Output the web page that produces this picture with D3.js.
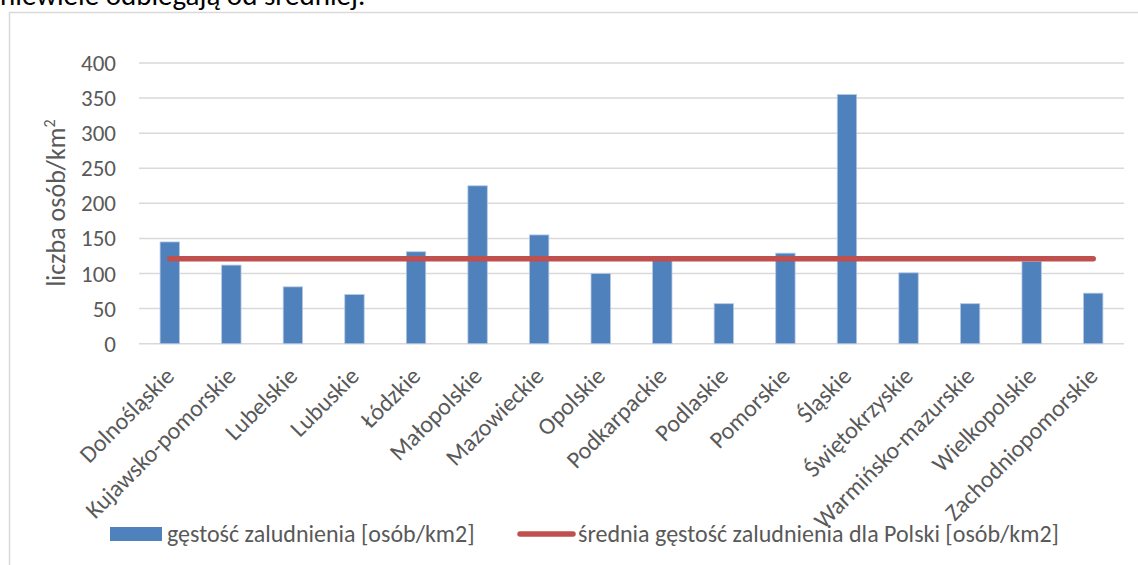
<!DOCTYPE html>
<html>
<head>
<meta charset="utf-8">
<script src="https://cdn.jsdelivr.net/npm/d3@7"></script>
<style>
  body { margin: 0; background: #fff; }
  svg { display: block; font-family: Carlito, Lato, "Noto Sans", sans-serif; }
</style>
</head>
<body>
<svg id="chart" width="1138" height="565"></svg>
<script>
// dane: gęstość zaludnienia wg województw
const wojewodztwa = ["Dolnośląskie", "Kujawsko-pomorskie", "Lubelskie", "Lubuskie", "Łódzkie",
  "Małopolskie", "Mazowieckie", "Opolskie", "Podkarpackie", "Podlaskie", "Pomorskie", "Śląskie",
  "Świętokrzyskie", "Warmińsko-mazurskie", "Wielkopolskie", "Zachodniopomorskie"];
const gestosc = [145, 112, 81, 70, 131, 225, 155, 100, 119, 57, 129, 355, 101, 57, 117, 72];
const sredniaPolska = 121;
const yTicks = [0, 50, 100, 150, 200, 250, 300, 350, 400];

const svg = d3.select("#chart");

// tekst nad wykresem (ucięty u góry)
svg.append("text")
    .attr("x", 0).attr("y", 5)
    .style("font-size", "29px").style("fill", "#000")
    .text("niewiele odbiegają od średniej.");

// ramka obszaru wykresu
svg.append("path")
    .attr("d", "M9.5,570 V12.5 H1145")
    .attr("fill", "none").attr("stroke", "#d9d9d9").attr("stroke-width", 1.5);

const plot = { left: 139, right: 1124, top: 63, bottom: 343.7 };

const x = d3.scaleBand().domain(wojewodztwa).range([plot.left, plot.right]).padding(0);
const y = d3.scaleLinear().domain([0, 400]).range([plot.bottom, plot.top]);
const barW = x.bandwidth() * 0.315;

// linie siatki
svg.append("g").selectAll("line")
    .data(yTicks).enter().append("line")
    .attr("x1", plot.left).attr("x2", plot.right)
    .attr("y1", d => y(d)).attr("y2", d => y(d))
    .attr("stroke", "#d9d9d9").attr("stroke-width", 1.5);

// etykiety osi Y
svg.append("g").selectAll("text")
    .data(yTicks).enter().append("text")
    .attr("x", 116).attr("y", d => y(d))
    .attr("dy", "0.35em").attr("text-anchor", "end")
    .style("font-size", "23px").style("fill", "#595959")
    .text(d => d);

// tytuł osi Y
svg.append("text")
    .attr("transform", "translate(65,203) rotate(-90)")
    .attr("text-anchor", "middle")
    .style("font-size", "26px").style("fill", "#595959")
    .html("liczba osób/km<tspan dy='-10' font-size='16px'>2</tspan>");

// słupki
svg.append("g").selectAll("rect")
    .data(gestosc).enter().append("rect")
    .attr("x", (d, i) => x(wojewodztwa[i]) + x.bandwidth() / 2 - barW / 2)
    .attr("y", d => y(d))
    .attr("width", barW)
    .attr("height", d => y(0) - y(d))
    .attr("fill", "#4f81bd")
    .attr("stroke", "#b4c8e2").attr("stroke-width", 0.8);

// linia średniej
const line = d3.line()
    .x(d => x(d) + x.bandwidth() / 2)
    .y(() => y(sredniaPolska));
svg.append("path")
    .datum(wojewodztwa)
    .attr("d", line)
    .attr("fill", "none").attr("stroke", "#c0504d")
    .attr("stroke-width", 5.5).attr("stroke-linecap", "round");

// etykiety osi X
svg.append("g").selectAll("text")
    .data(wojewodztwa).enter().append("text")
    .attr("transform", d => `translate(${x(d) + x.bandwidth() / 2},${plot.bottom + 28}) rotate(-45)`)
    .attr("text-anchor", "end").attr("dy", "0.35em")
    .style("font-size", "24px").style("fill", "#595959")
    .text(d => d);

// legenda
const leg = svg.append("g").style("font-size", "24px").style("fill", "#595959");
leg.append("rect").attr("x", 110).attr("y", 527).attr("width", 52).attr("height", 14).attr("fill", "#4f81bd");
leg.append("text").attr("x", 167).attr("y", 542).text("gęstość zaludnienia [osób/km2]");
leg.append("line").attr("x1", 520).attr("x2", 573).attr("y1", 534).attr("y2", 534)
    .attr("stroke", "#c0504d").attr("stroke-width", 5.5).attr("stroke-linecap", "round");
leg.append("text").attr("x", 578).attr("y", 542).text("średnia gęstość zaludnienia dla Polski [osób/km2]");
</script>
</body>
</html>
